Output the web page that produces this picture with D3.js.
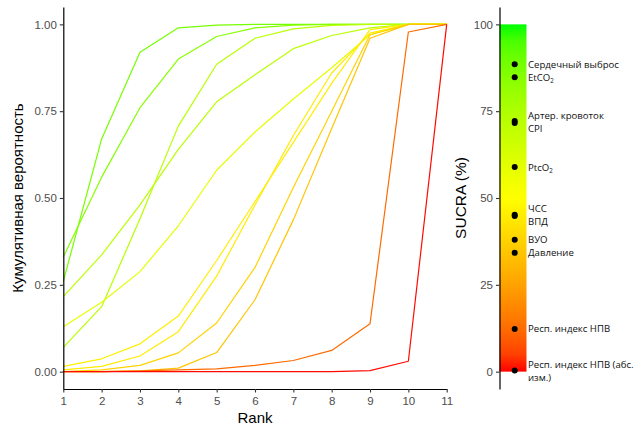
<!DOCTYPE html>
<html>
<head>
<meta charset="utf-8">
<script src="https://cdn.jsdelivr.net/npm/d3@7"></script>
<style>
body{margin:0;background:#fff}
svg{display:block}
</style>
</head>
<body>
<svg class="chart" width="643" height="432"></svg>
<script>
// treatments, SUCRA values (%) and rank ticks
var treatments = ["Сердечный выброс", "EtCO₂", "Артер. кровоток", "CPI", "PtcO₂",
                  "ЧСС", "ВПД", "ВУО", "Давление", "Респ. индекс НПВ", "Респ. индекс НПВ (абс. изм.)"];
var sucra = [88.5, 84.8, 72.2, 71.6, 58.9, 45.2, 44.8, 38.0, 34.2, 12.3, 0.3];
var ranks = [1, 2, 3, 4, 5, 6, 7, 8, 9, 10, 11];
var yTicks = [0, 0.25, 0.5, 0.75, 1];
var sucraTicks = [0, 25, 50, 75, 100];

// cumulative probability by rank, one array per treatment
var cumCardiac  = [0.26, 0.67, 0.92, 0.99, 0.998, 1, 1, 1, 1, 1, 1];
var cumEtco2    = [0.33, 0.56, 0.76, 0.90, 0.965, 0.99, 0.998, 1, 1, 1, 1];
var cumArterial = [0.07, 0.187, 0.44, 0.707, 0.885, 0.96, 0.987, 0.997, 1, 1, 1];
var cumCpi      = [0.216, 0.336, 0.48, 0.64, 0.777, 0.855, 0.93, 0.968, 0.99, 1, 1];
var cumPtco2    = [0.129, 0.20, 0.288, 0.42, 0.58, 0.69, 0.785, 0.875, 0.97, 1, 1];
var cumHr       = [0.015, 0.037, 0.08, 0.16, 0.32, 0.49, 0.66, 0.83, 0.985, 1, 1];
var cumPpv      = [0.005, 0.015, 0.045, 0.115, 0.275, 0.48, 0.68, 0.86, 0.975, 1, 1];
var cumSvv      = [0, 0.005, 0.018, 0.054, 0.14, 0.30, 0.53, 0.75, 0.97, 1, 1];
var cumPressure = [0, 0, 0.002, 0.01, 0.055, 0.207, 0.437, 0.70, 0.96, 1, 1];
var cumIvc      = [0, 0, 0.002, 0.005, 0.008, 0.018, 0.032, 0.061, 0.138, 0.978, 1];
var cumIvcAbs   = [0, 0, 0, 0, 0, 0, 0, 0, 0.003, 0.03, 1];

var series = [cumCardiac, cumEtco2, cumArterial, cumCpi, cumPtco2, cumHr,
              cumPpv, cumSvv, cumPressure, cumIvc, cumIvcAbs];

var svg = d3.select(".chart");

var x = d3.scaleLinear().domain([1, 11]).range([63.3, 446.7]);
var y = d3.scaleLinear().domain([-0.05, 1.05]).range([389, 7]);
var s = d3.scaleLinear().domain([-5, 105]).range([389, 7]);
var color = d3.scaleLinear()
    .domain([0, 50, 100])
    .range(["#ff0000", "#ffff00", "#00ff00"])
    .interpolate(d3.interpolateLab);

var tickFont = "'Liberation Sans', Arial, sans-serif";

function styleAxis(g) {
  g.select(".domain").attr("stroke", "#000").attr("stroke-width", 1.2);
  g.selectAll(".tick line").attr("stroke", "#333").attr("stroke-width", 1.1);
  g.selectAll(".tick text").attr("fill", "#4d4d4d")
    .style("font-family", tickFont).style("font-size", "11.5px");
}

// lines (drawn from best to worst so the red one ends up on top)
var line = d3.line()
    .x(function(d, i) { return x(ranks[i]); })
    .y(function(d) { return y(d); });

svg.append("g").selectAll("path")
  .data(series)
  .enter().append("path")
  .attr("d", line)
  .attr("fill", "none")
  .attr("stroke", function(d, i) { return color(sucra[i]); })
  .attr("stroke-width", 1.2)
  .attr("stroke-linejoin", "round");

// left axes
svg.append("g")
    .attr("transform", "translate(63.3,0)")
    .call(d3.axisLeft(y).tickValues(yTicks).tickFormat(d3.format(".2f"))
      .tickSize(3.5).tickSizeOuter(0).tickPadding(3))
    .call(styleAxis);

svg.append("g")
    .attr("transform", "translate(0,389)")
    .call(d3.axisBottom(x).tickValues(ranks).tickFormat(d3.format("d"))
      .tickSize(3.5).tickSizeOuter(0).tickPadding(4.5))
    .call(styleAxis);

svg.append("text")
    .attr("x", 255).attr("y", 423)
    .attr("text-anchor", "middle")
    .style("font-family", tickFont).style("font-size", "15px")
    .text("Rank");

svg.append("text")
    .attr("transform", "translate(23,198) rotate(-90)")
    .attr("text-anchor", "middle")
    .style("font-family", tickFont).style("font-size", "15px")
    .text("Кумулятивная вероятность");

// colour bar
var grad = svg.append("defs").append("linearGradient")
    .attr("id", "sucraGrad")
    .attr("x1", 0).attr("y1", 1).attr("x2", 0).attr("y2", 0);
grad.selectAll("stop")
  .data(d3.range(0, 101, 5))
  .enter().append("stop")
  .attr("offset", function(d) { return d + "%"; })
  .attr("stop-color", function(d) { return color(d); });

svg.append("rect")
    .attr("x", 499.5).attr("y", s(100))
    .attr("width", 27).attr("height", s(0) - s(100))
    .attr("fill", "url(#sucraGrad)");

svg.append("g")
    .attr("transform", "translate(499.5,0)")
    .call(d3.axisLeft(s).tickValues(sucraTicks)
      .tickSize(3.5).tickSizeOuter(0).tickPadding(3))
    .call(styleAxis);

svg.append("text")
    .attr("transform", "translate(466,198) rotate(-90)")
    .attr("text-anchor", "middle")
    .style("font-family", tickFont).style("font-size", "15.5px")
    .text("SUCRA (%)");

// dots
svg.append("g").selectAll("circle")
  .data(sucra)
  .enter().append("circle")
  .attr("cx", 514.7)
  .attr("cy", function(d) { return s(d); })
  .attr("r", 3)
  .attr("fill", "#000");

// labels with a simple vertical repel
var labelFont = "'Open Sans', 'Noto Sans', sans-serif";
var lineH = 13;
var labels = svg.append("g");

var items = treatments.map(function(name, i) {
  var t = labels.append("text")
      .attr("x", 528)
      .style("font-family", labelFont).style("font-size", "9.6px")
      .attr("fill", "#111");
  // word wrap to the space right of the bar
  var words = name.split(" "), rows = [], cur = "";
  var probe = t.append("tspan");
  words.forEach(function(w) {
    var test = cur ? cur + " " + w : w;
    probe.text(test);
    if (probe.node().getComputedTextLength() > 113 && cur) { rows.push(cur); cur = w; }
    else cur = test;
  });
  rows.push(cur);
  probe.remove();
  return {text: t, rows: rows, c: s(sucra[i]), h: rows.length * lineH};
});

for (var k = 0; k < 200; k++) {
  for (var i = 1; i < items.length; i++) {
    var a = items[i - 1], b = items[i];
    var ov = (a.c + a.h / 2) - (b.c - b.h / 2);
    if (ov > 0) { a.c -= ov / 2; b.c += ov / 2; }
  }
}

items.forEach(function(it) {
  var top = it.c - it.h / 2;
  it.rows.forEach(function(r, j) {
    var parts = r.split("₂");
    var base = top + lineH * (j + 0.5) + 3.5;
    it.text.append("tspan").attr("x", 528).attr("y", base).text(parts[0]);
    if (parts.length > 1) {
      it.text.append("tspan").attr("dy", 2.5).style("font-size", "6.2px").text("2");
      it.text.append("tspan").attr("dy", -2.5).text(parts[1]);
    }
  });
});
</script>
</body>
</html>
